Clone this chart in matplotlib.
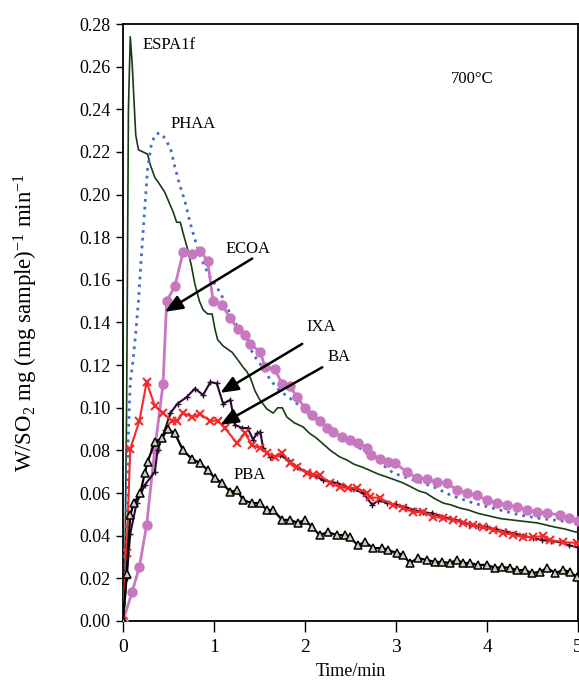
"""SO2 release rate of the sorbents at 700 °C."""

import matplotlib
matplotlib.use("Agg")
import matplotlib.pyplot as plt

plt.rcParams["font.family"] = ["Liberation Serif", "DejaVu Serif"]
plt.rcParams["mathtext.fontset"] = "custom"
plt.rcParams["mathtext.rm"] = "Liberation Serif"
plt.rcParams["mathtext.it"] = "Liberation Serif:italic"

# time in min, rate in mg SO2 per mg sample per min
espa_t = [0, 0.02, 0.04, 0.05, 0.06, 0.08, 0.10, 0.12, 0.14, 0.17, 0.22, 0.27,
          0.30, 0.35, 0.40, 0.46, 0.50, 0.55, 0.59, 0.63, 0.66, 0.70, 0.75,
          0.79, 0.84, 0.88, 0.93, 0.98, 1.01, 1.04, 1.10, 1.20, 1.27, 1.32,
          1.36, 1.40, 1.45, 1.50, 1.58, 1.65, 1.70, 1.75, 1.80, 1.88, 1.98,
          2.05, 2.12, 2.20, 2.28, 2.38, 2.46, 2.54, 2.64, 2.72, 2.80, 2.90,
          3.00, 3.08, 3.16, 3.25, 3.33, 3.42, 3.52, 3.60, 3.70, 3.80, 3.90,
          4.00, 4.07, 4.15, 4.25, 4.35, 4.45, 4.55, 4.65, 4.75, 4.85, 4.95, 5.00]
espa_r = [0, 0.020, 0.100, 0.170, 0.240, 0.274, 0.262, 0.245, 0.228, 0.221,
          0.220, 0.219, 0.214, 0.208, 0.205, 0.201, 0.197, 0.192, 0.187, 0.187,
          0.182, 0.176, 0.167, 0.158, 0.150, 0.146, 0.144, 0.144, 0.137, 0.132,
          0.129, 0.126, 0.122, 0.119, 0.117, 0.114, 0.108, 0.104, 0.0995,
          0.0975, 0.100, 0.100, 0.0957, 0.093, 0.091, 0.088, 0.086, 0.083,
          0.080, 0.077, 0.0755, 0.0735, 0.072, 0.0705, 0.069, 0.0675, 0.066,
          0.0647, 0.063, 0.061, 0.060, 0.0575, 0.0553, 0.0545, 0.053, 0.052,
          0.0505, 0.0495, 0.0488, 0.048, 0.0475, 0.047, 0.0465, 0.046, 0.045,
          0.044, 0.0432, 0.042, 0.0415]

phaa_t = [0, 0.02, 0.04, 0.06, 0.08, 0.11, 0.14, 0.17, 0.20, 0.24, 0.27, 0.31,
          0.35, 0.40, 0.45, 0.52, 0.57, 0.62, 0.68, 0.73, 0.79, 0.85, 0.90,
          0.95, 1.01, 1.08, 1.18, 1.26, 1.34, 1.45, 1.55, 1.62, 1.72, 1.82,
          1.91, 2.00, 2.10, 2.20, 2.27, 2.40, 2.50, 2.64, 2.80, 2.97, 3.20,
          3.41, 3.60, 3.85, 4.10, 4.36, 4.60, 4.80, 4.95, 5.00]
phaa_r = [0, 0.010, 0.050, 0.090, 0.112, 0.122, 0.135, 0.150, 0.170, 0.194,
          0.212, 0.223, 0.228, 0.229, 0.227, 0.222, 0.213, 0.205, 0.197, 0.188,
          0.179, 0.171, 0.166, 0.162, 0.158, 0.153, 0.144, 0.138, 0.132, 0.124,
          0.118, 0.113, 0.108, 0.105, 0.102, 0.0985, 0.095, 0.092, 0.091,
          0.087, 0.084, 0.080, 0.075, 0.0694, 0.066, 0.063, 0.059, 0.0553,
          0.0525, 0.0497, 0.048, 0.047, 0.0464, 0.046]

ecoa_t = [0, 0.10, 0.18, 0.26, 0.35, 0.44, 0.48, 0.57, 0.66, 0.76, 0.85, 0.93,
          0.99, 1.09, 1.18, 1.26, 1.34, 1.40, 1.51, 1.56, 1.67, 1.75, 1.84,
          1.91, 2.00, 2.08, 2.16, 2.24, 2.31, 2.41, 2.49, 2.58, 2.68, 2.73,
          2.82, 2.91, 2.99, 3.12, 3.23, 3.34, 3.45, 3.56, 3.67, 3.78, 3.89,
          4.00, 4.11, 4.22, 4.33, 4.44, 4.55, 4.66, 4.80, 4.90, 5.00]
ecoa_r = [0, 0.0136, 0.0253, 0.045, 0.0807, 0.111, 0.150, 0.157, 0.173, 0.172,
          0.1735, 0.169, 0.150, 0.148, 0.142, 0.137, 0.134, 0.130, 0.126,
          0.119, 0.118, 0.111, 0.110, 0.105, 0.100, 0.0966, 0.094, 0.0905,
          0.0886, 0.0863, 0.0849, 0.0835, 0.0811, 0.0778, 0.076, 0.0746, 0.074,
          0.0699, 0.067, 0.0666, 0.065, 0.0647, 0.0614, 0.060, 0.059, 0.0567,
          0.0553, 0.0544, 0.0535, 0.052, 0.0511, 0.0506, 0.0497, 0.0483, 0.047]

ba_t = [0, 0.04, 0.08, 0.18, 0.26, 0.35, 0.44, 0.54, 0.59, 0.66, 0.76, 0.85,
        0.96, 1.04, 1.12, 1.25, 1.34, 1.42, 1.51, 1.58, 1.67, 1.75, 1.84, 1.91,
        2.02, 2.09, 2.16, 2.27, 2.38, 2.47, 2.57, 2.68, 2.71, 2.82, 2.97, 3.08,
        3.19, 3.30, 3.41, 3.52, 3.63, 3.74, 3.85, 3.96, 4.07, 4.18, 4.29, 4.40,
        4.51, 4.62, 4.69, 4.84, 4.99]
ba_r = [0, 0.032, 0.0807, 0.0938, 0.112, 0.101, 0.0975, 0.094, 0.0938, 0.0975,
        0.0957, 0.097, 0.0938, 0.094, 0.0905, 0.0835, 0.088, 0.0825, 0.081,
        0.0788, 0.077, 0.0788, 0.074, 0.072, 0.0694, 0.0685, 0.0685, 0.0647,
        0.0628, 0.0624, 0.0624, 0.060, 0.058, 0.0577, 0.0544, 0.053, 0.0511,
        0.0511, 0.0488, 0.0483, 0.0474, 0.046, 0.045, 0.0441, 0.0427, 0.0413,
        0.0403, 0.0394, 0.0394, 0.0399, 0.038, 0.037, 0.0366]

ixa_t = [0, 0.04, 0.08, 0.15, 0.24, 0.35, 0.38, 0.46, 0.52, 0.60, 0.70, 0.79,
         0.88, 0.96, 1.03, 1.10, 1.18, 1.23, 1.31, 1.37, 1.43, 1.47, 1.51,
         1.54, 1.62, 1.73, 1.81, 1.91, 2.05, 2.20, 2.35, 2.49, 2.64, 2.74,
         2.80, 2.90, 3.00, 3.10, 3.20, 3.30, 3.40, 3.50, 3.60, 3.70, 3.80,
         3.90, 4.00, 4.10, 4.20, 4.30, 4.40, 4.50, 4.60, 4.70, 4.80, 4.90, 5.00]
ixa_r = [0, 0.020, 0.041, 0.0553, 0.0638, 0.070, 0.080, 0.0896, 0.0975, 0.102,
         0.105, 0.109, 0.106, 0.112, 0.1115, 0.102, 0.1037, 0.092, 0.0905,
         0.0905, 0.085, 0.088, 0.0886, 0.081, 0.077, 0.0778, 0.0755, 0.072,
         0.0694, 0.066, 0.0647, 0.0624, 0.060, 0.0544, 0.0565, 0.0555, 0.0545,
         0.0535, 0.052, 0.051, 0.0505, 0.049, 0.048, 0.047, 0.0455, 0.0445,
         0.044, 0.043, 0.042, 0.041, 0.040, 0.039, 0.038, 0.0375, 0.037,
         0.0355, 0.0345]

pba_t = [0, 0.04, 0.08, 0.12, 0.19, 0.24, 0.27, 0.35, 0.43, 0.49, 0.57, 0.66,
         0.76, 0.85, 0.93, 1.01, 1.09, 1.18, 1.25, 1.32, 1.42, 1.51, 1.58,
         1.65, 1.75, 1.84, 1.92, 2.00, 2.08, 2.16, 2.25, 2.35, 2.44, 2.49,
         2.58, 2.66, 2.75, 2.85, 2.91, 3.01, 3.08, 3.15, 3.24, 3.34, 3.43,
         3.51, 3.59, 3.67, 3.74, 3.81, 3.90, 4.00, 4.09, 4.16, 4.25, 4.33,
         4.42, 4.49, 4.58, 4.66, 4.75, 4.84, 4.91, 4.99]
pba_r = [0, 0.022, 0.0497, 0.0553, 0.060, 0.0694, 0.0746, 0.084, 0.0858, 0.090,
         0.088, 0.080, 0.076, 0.074, 0.0708, 0.067, 0.0647, 0.0605, 0.0614,
         0.0567, 0.0553, 0.0553, 0.052, 0.052, 0.0474, 0.0474, 0.046, 0.0474,
         0.044, 0.0403, 0.0417, 0.0403, 0.0403, 0.0394, 0.0356, 0.037, 0.0342,
         0.0342, 0.0333, 0.0319, 0.031, 0.0272, 0.0295, 0.0286, 0.0277,
         0.0277, 0.0272, 0.0286, 0.0272, 0.0272, 0.0263, 0.0263, 0.0249,
         0.0253, 0.0249, 0.0239, 0.0239, 0.0225, 0.023, 0.0249, 0.0225,
         0.0239, 0.023, 0.0206]


def main() -> None:
    fig = plt.figure(figsize=(5.79, 6.88), dpi=100)
    ax = fig.add_axes([0.2124, 0.0974, 0.7859, 0.8677])

    ax.plot(espa_t, espa_r, color="#173d15", lw=1.2, zorder=3)
    ax.plot(phaa_t, phaa_r, color="#4470c4", lw=2.0, linestyle=(0, (1, 1.8)),
            zorder=3)
    ax.plot(ecoa_t, ecoa_r, color="#c878c0", lw=2.0, marker="o", ms=6.5,
            mec="#c878c0", zorder=4)
    ax.plot(ixa_t, ixa_r, color="#2a0a30", lw=1.5, marker="+", ms=5, mew=1.0,
            zorder=5)
    ax.plot(ba_t, ba_r, color="#f42a2a", lw=1.5, marker="x", ms=6, mew=1.5,
            zorder=6)
    ax.plot(pba_t, pba_r, color="black", lw=1.6, marker="^", ms=6, mew=1.1,
            mfc="#c9d3bc", mec="black", zorder=7)

    ax.set_xlim(0, 5)
    ax.set_ylim(0, 0.28)
    ax.set_xticks([0, 1, 2, 3, 4, 5])
    ax.set_yticks([i * 0.02 for i in range(15)])
    ax.yaxis.set_major_formatter(plt.FormatStrFormatter("%.2f"))
    ax.tick_params(axis="y", direction="out", length=5, width=1, labelsize=13,
                   pad=4)
    ax.tick_params(axis="x", direction="out", length=8, width=1, labelsize=14,
                   pad=5)
    for sp in ax.spines.values():
        sp.set_linewidth(1.3)

    ax.set_xlabel("Time/min", fontsize=13, labelpad=5)
    ax.set_ylabel(r"W/SO$_2$ mg (mg sample)$^{-1}$ min$^{-1}$", fontsize=16.5,
                  labelpad=28)

    ax.text(0.21, 0.270, "ESPA1f", fontsize=12, va="center")
    ax.text(0.52, 0.233, "PHAA", fontsize=12, va="center")
    ax.text(1.13, 0.1745, "ECOA", fontsize=12, va="center")
    ax.text(2.02, 0.138, "IXA", fontsize=12, va="center")
    ax.text(2.25, 0.124, "BA", fontsize=12, va="center")
    ax.text(1.21, 0.0685, "PBA", fontsize=12, va="center")
    ax.text(3.6, 0.254, "700°C", fontsize=12, va="center")

    arrow = dict(arrowstyle="-|>,head_length=0.6,head_width=0.25",
                 color="black", lw=1.8, mutation_scale=18, shrinkA=0,
                 shrinkB=0)
    ax.annotate("", xy=(0.46, 0.145), xytext=(1.42, 0.170), arrowprops=arrow,
                zorder=8)
    ax.annotate("", xy=(1.07, 0.107), xytext=(1.97, 0.130), arrowprops=arrow,
                zorder=8)
    ax.annotate("", xy=(1.07, 0.092), xytext=(2.19, 0.119), arrowprops=arrow,
                zorder=8)

    fig.savefig("out.png", dpi=100)


if __name__ == "__main__":
    main()
